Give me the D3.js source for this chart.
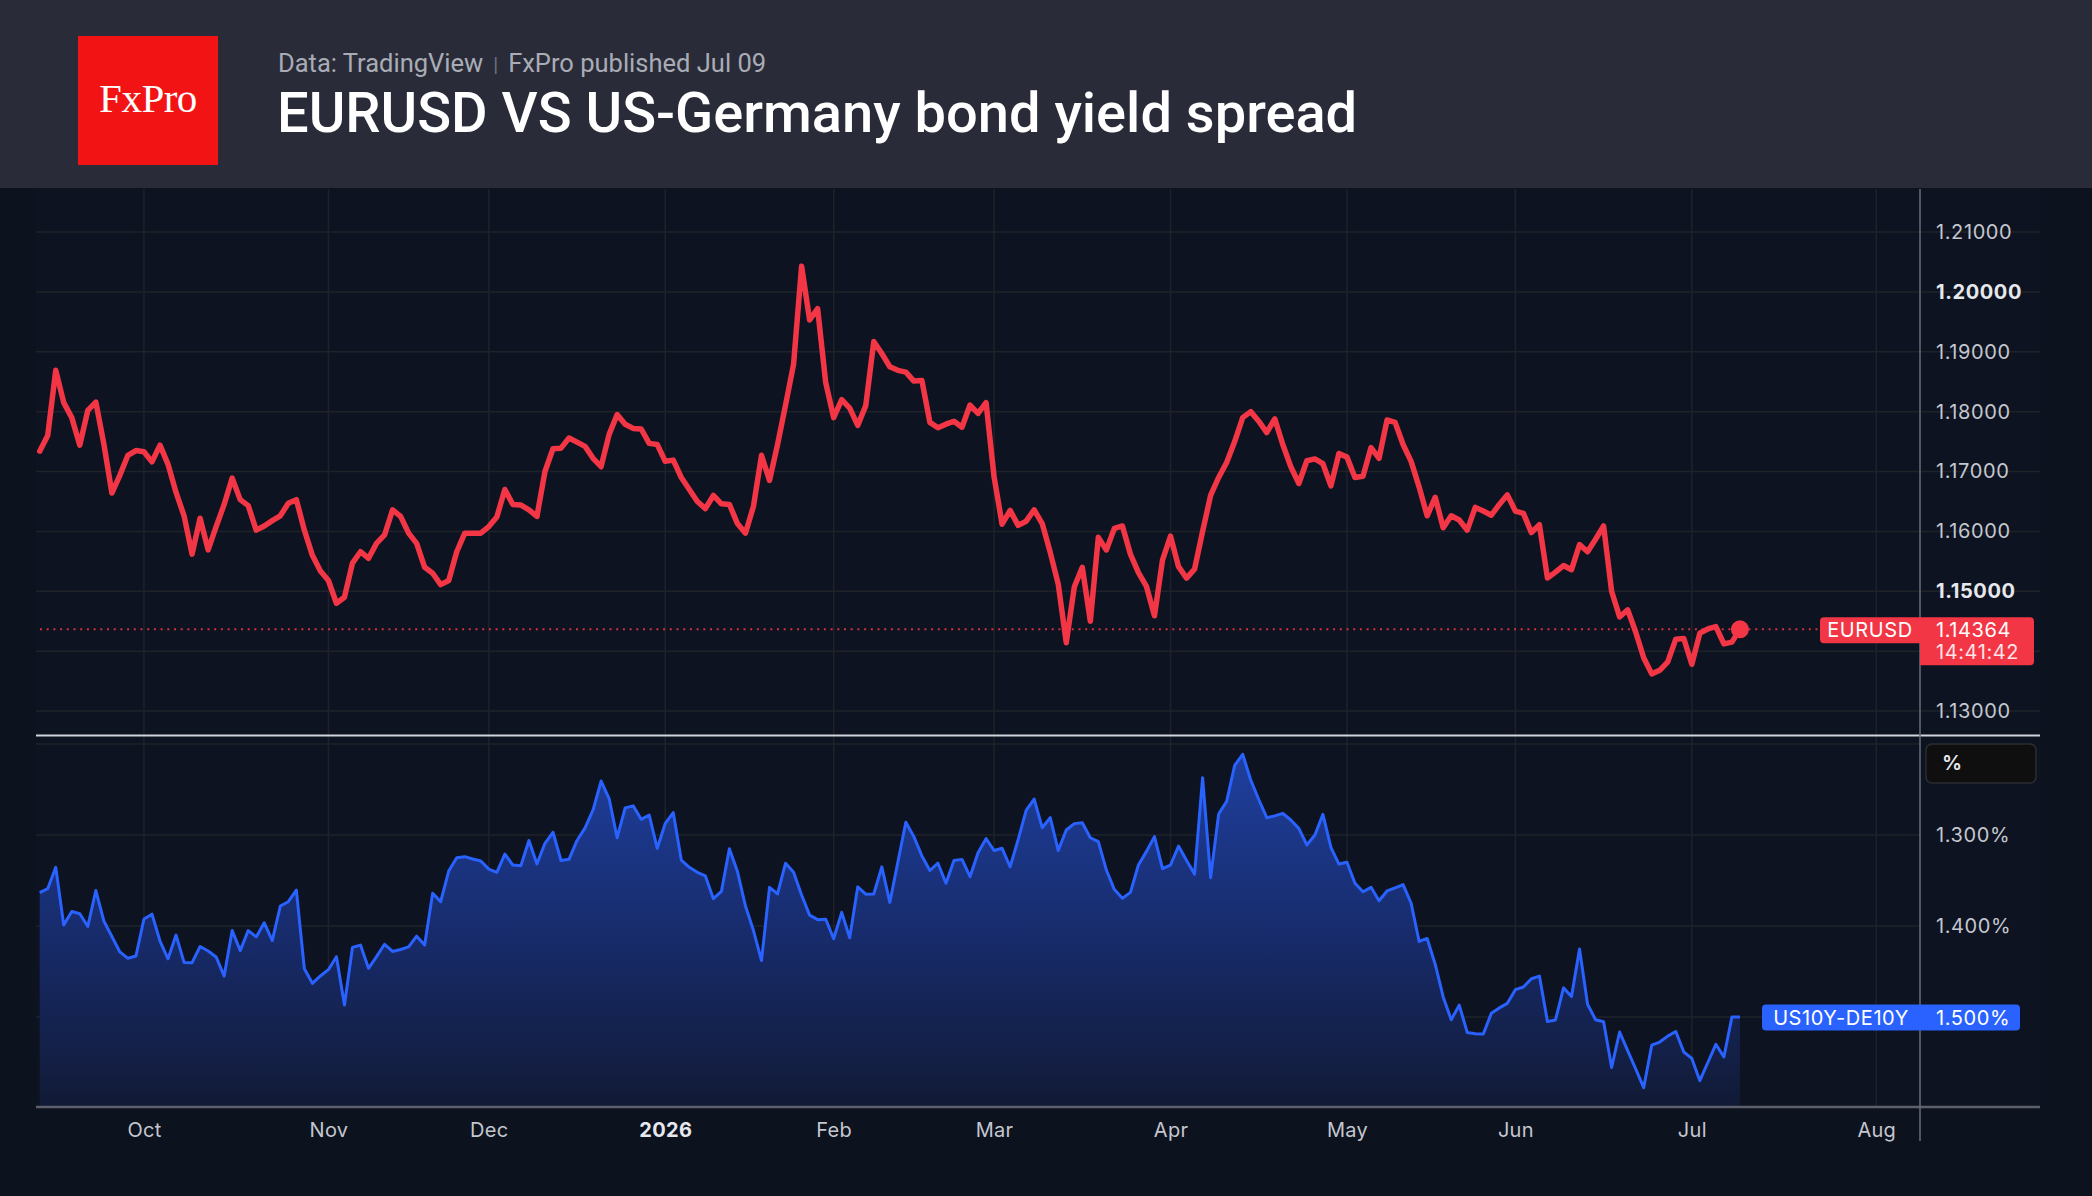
<!DOCTYPE html>
<html>
<head>
<meta charset="utf-8">
<script src="https://cdn.jsdelivr.net/npm/d3@7/dist/d3.min.js"></script>
<style>
  html, body { margin: 0; padding: 0; background: #0c121e; }
  svg { display: block; }
  text { font-family: Inter, Roboto, "Noto Sans", sans-serif; }
</style>
</head>
<body>
<svg id="chart" width="2092" height="1196"></svg>
<script>
// ---------------- DATA ----------------
// Daily trading bars from 2025-09-12 to 2026-07-09 (weekdays, excluding these holidays)
const firstDay = "2025-09-12";
const lastDay = "2026-07-09";
const axisEndDay = "2026-08-31";
const holidays = ["2025-12-25", "2026-01-01"];

const eurusd = [
  1.1734,1.1760,1.1869,1.1815,1.1790,1.1744,1.1802,1.1816,1.1746,1.1664,
  1.1694,1.1727,1.1735,1.1733,1.1716,1.1744,1.1712,1.1665,1.1626,1.1562,
  1.1622,1.1569,1.1608,1.1645,1.1689,1.1653,1.1643,1.1602,1.1609,1.1618,
  1.1626,1.1647,1.1653,1.1602,1.1560,1.1534,1.1518,1.1480,1.1490,1.1547,
  1.1566,1.1555,1.1580,1.1594,1.1636,1.1625,1.1597,1.1580,1.1540,1.1530,
  1.1511,1.1518,1.1566,1.1597,1.1597,1.1597,1.1608,1.1624,1.1670,1.1645,
  1.1644,1.1636,1.1625,1.1700,1.1738,1.1739,1.1756,1.1749,1.1742,1.1722,
  1.1708,1.1762,1.1795,1.1779,1.1772,1.1771,1.1747,1.1745,1.1717,1.1719,
  1.1690,1.1670,1.1650,1.1638,1.1660,1.1646,1.1645,1.1613,1.1597,1.1642,
  1.1727,1.1685,1.1745,1.1811,1.1879,1.2043,1.1953,1.1972,1.1849,1.1790,
  1.1820,1.1806,1.1777,1.1810,1.1917,1.1897,1.1875,1.1869,1.1866,1.1851,
  1.1852,1.1782,1.1773,1.1779,1.1784,1.1774,1.1811,1.1797,1.1815,1.1691,
  1.1612,1.1635,1.1610,1.1617,1.1636,1.1613,1.1565,1.1512,1.1414,1.1507,
  1.1540,1.1450,1.1590,1.1569,1.1605,1.1609,1.1562,1.1531,1.1508,1.1459,
  1.1552,1.1592,1.1541,1.1522,1.1537,1.1600,1.1660,1.1690,1.1715,1.1750,
  1.1790,1.1800,1.1784,1.1765,1.1788,1.1745,1.1708,1.1680,1.1718,1.1721,
  1.1713,1.1676,1.1730,1.1724,1.1690,1.1692,1.1740,1.1722,1.1786,1.1782,
  1.1745,1.1717,1.1674,1.1626,1.1657,1.1606,1.1626,1.1619,1.1602,1.1640,
  1.1634,1.1627,1.1645,1.1661,1.1634,1.1630,1.1598,1.1611,1.1522,1.1532,
  1.1543,1.1536,1.1578,1.1566,1.1587,1.1609,1.1500,1.1457,1.1469,1.1432,
  1.1389,1.1362,1.1368,1.1382,1.1420,1.1421,1.1378,1.1430,1.1437,1.1441,
  1.1412,1.1415,1.14364
];

const spread = [
  1.3634,1.3590,1.3355,1.3990,1.3840,1.3865,1.4005,1.3610,1.3945,1.4115,
  1.4285,1.4355,1.4330,1.3923,1.3870,1.4165,1.4360,1.4100,1.4400,1.4403,
  1.4225,1.4275,1.4340,1.4550,1.4050,1.4270,1.4050,1.4120,1.3965,1.4160,
  1.3780,1.3733,1.3605,1.4470,1.4630,1.4549,1.4480,1.4337,1.4868,1.4235,
  1.4210,1.4465,1.4337,1.4201,1.4280,1.4258,1.4230,1.4112,1.4209,1.3640,
  1.3733,1.3396,1.3250,1.3238,1.3264,1.3285,1.3375,1.3410,1.3210,1.3330,
  1.3337,1.3060,1.3319,1.3091,1.2970,1.3280,1.3267,1.3060,1.2922,1.2725,
  1.2407,1.2600,1.3030,1.2702,1.2680,1.2828,1.2780,1.3146,1.2872,1.2755,
  1.3275,1.3355,1.3410,1.3450,1.3700,1.3620,1.3150,1.3400,1.3780,1.4050,
  1.4380,1.3575,1.3648,1.3310,1.3410,1.3660,1.3880,1.3930,1.3925,1.4140,
  1.3850,1.4130,1.3570,1.3650,1.3648,1.3350,1.3740,1.3300,1.2860,1.3018,
  1.3230,1.3390,1.3310,1.3530,1.3280,1.3268,1.3458,1.3195,1.3040,1.3170,
  1.3146,1.3350,1.3050,1.2730,1.2605,1.2920,1.2810,1.3170,1.2945,1.2875,
  1.2865,1.3030,1.3073,1.3385,1.3600,1.3696,1.3630,1.3330,1.3180,1.3018,
  1.3370,1.3330,1.3121,1.3280,1.3430,1.2370,1.3469,1.2770,1.2630,1.2235,
  1.2113,1.2396,1.2610,1.2810,1.2790,1.2762,1.2835,1.2927,1.3110,1.3000,
  1.2773,1.3135,1.3319,1.3300,1.3531,1.3623,1.3575,1.3722,1.3615,1.3580,
  1.3545,1.3750,1.4170,1.4137,1.4420,1.4780,1.5030,1.4870,1.5170,1.5185,
  1.5187,1.4960,1.4900,1.4850,1.4700,1.4670,1.4580,1.4550,1.5050,1.5033,
  1.4680,1.4775,1.4253,1.4860,1.5030,1.5052,1.5555,1.5165,1.5370,1.5570,
  1.5777,1.5310,1.5275,1.5210,1.5160,1.5385,1.5455,1.5700,1.5500,1.5300,
  1.5440,1.5000,1.5000
];

const priceTicks = [1.13, 1.14, 1.15, 1.16, 1.17, 1.18, 1.19, 1.20, 1.21];
const priceLabelTicks = [1.13, 1.15, 1.16, 1.17, 1.18, 1.19, 1.20, 1.21];
const priceBoldTicks = [1.15, 1.20];
const spreadTicks = [1.2, 1.3, 1.4, 1.5];
const spreadLabelTicks = [1.3, 1.4, 1.5];
const monthLabels = ["Oct", "Nov", "Dec", "2026", "Feb", "Mar", "Apr", "May", "Jun", "Jul", "Aug"];
const monthBoldLabels = ["2026"];

const lastPrice = "1.14364";
const countdown = "14:41:42";
const eurLabel = "EURUSD";
const spreadLabel = "US10Y-DE10Y";
const spreadValueLabel = "1.500%";

const titleText = "EURUSD VS US-Germany bond yield spread";
const sourceLeft = "Data: TradingView";
const sourceRight = "FxPro published Jul 09";

// ---------------- CALENDAR ----------------
const parse = d3.utcParse("%Y-%m-%d");
const fmt = d3.utcFormat("%Y-%m-%d");
const hol = new Set(holidays);
const allDays = d3.utcDays(parse(firstDay), d3.utcDay.offset(parse(axisEndDay), 1))
  .filter(d => d.getUTCDay() !== 0 && d.getUTCDay() !== 6 && !hol.has(fmt(d)));
const barDates = allDays.filter(d => d <= parse(lastDay));
const N = barDates.length; // 213

const monthTickIdx = [];
allDays.forEach((d, i) => {
  if (i > 0 && d.getUTCMonth() !== allDays[i - 1].getUTCMonth()) monthTickIdx.push(i);
});

// ---------------- LAYOUT ----------------
const W = 2092, H = 1196;
const svg = d3.select("#chart");
const plotL = 36, plotR = 1920, lineR = 2040;
const topT = 189, sepY = 735.5, botY = 1107;

const x = d3.scaleLinear().domain([0, N - 1]).range([39.7, 39.7 + (N - 1) * 8.02]);
const yP = d3.scaleLinear().domain([1.13, 1.21]).range([711, 232]);
const yS = d3.scaleLinear().domain([1.3, 1.5]).range([835, 1017]);

// backgrounds
svg.append("rect").attr("width", W).attr("height", H).attr("fill", "#0c121e");
svg.append("rect").attr("x", plotL).attr("y", topT).attr("width", lineR - plotL).attr("height", botY - topT).attr("fill", "#0d1320");
svg.append("rect").attr("width", W).attr("height", 188).attr("fill", "#292c38");

// header
svg.append("rect").attr("x", 78).attr("y", 36).attr("width", 140).attr("height", 129).attr("fill", "#f21414");
svg.append("text").attr("x", 148).attr("y", 112).attr("text-anchor", "middle")
  .attr("fill", "#ffffff").style("font-family", "'Liberation Serif', 'DejaVu Serif', serif")
  .style("font-size", "41px").style("letter-spacing", "-0.5px").text("FxPro");

const sub = svg.append("text").attr("x", 278).attr("y", 72).attr("fill", "#a9acb6")
  .style("font-family", "Roboto, sans-serif").style("font-size", "25.5px");
sub.append("tspan").text(sourceLeft);
sub.append("tspan").attr("dx", 10).attr("fill", "#6f7380").style("font-size", "20px").text("|");
sub.append("tspan").attr("dx", 10).text(sourceRight);

svg.append("text").attr("x", 277).attr("y", 132).attr("fill", "#ffffff")
  .style("font-family", "Roboto, sans-serif").style("font-weight", 500)
  .style("font-size", "56px").text(titleText);

// gridlines
const grid = svg.append("g").attr("stroke", "#1f2329").attr("stroke-width", 1.5);
grid.selectAll(".vg").data(monthTickIdx).join("line")
  .attr("x1", d => x(d)).attr("x2", d => x(d)).attr("y1", topT).attr("y2", botY);
grid.selectAll(".hp").data(priceTicks).join("line")
  .attr("x1", plotL).attr("x2", lineR).attr("y1", d => yP(d)).attr("y2", d => yP(d));
grid.selectAll(".hs").data(spreadTicks).join("line")
  .attr("x1", plotL).attr("x2", plotR).attr("y1", d => yS(d)).attr("y2", d => yS(d));

// clip paths
const defs = svg.append("defs");
defs.append("clipPath").attr("id", "clipTop").append("rect")
  .attr("x", plotL).attr("y", topT).attr("width", plotR - plotL).attr("height", sepY - topT - 1);
defs.append("clipPath").attr("id", "clipBot").append("rect")
  .attr("x", plotL).attr("y", sepY + 1).attr("width", plotR - plotL).attr("height", botY - sepY - 1);
const grad = defs.append("linearGradient").attr("id", "areaGrad")
  .attr("gradientUnits", "userSpaceOnUse").attr("x1", 0).attr("x2", 0).attr("y1", 750).attr("y2", botY);
grad.append("stop").attr("offset", "0%").attr("stop-color", "#1f40a0");
grad.append("stop").attr("offset", "55%").attr("stop-color", "#172a68");
grad.append("stop").attr("offset", "100%").attr("stop-color", "#111a35");

// spread area + line
const gBot = svg.append("g").attr("clip-path", "url(#clipBot)");
gBot.append("path").datum(spread)
  .attr("d", d3.area().x((d, i) => x(i)).y0(botY).y1(d => yS(d)))
  .attr("fill", "url(#areaGrad)");
gBot.append("path").datum(spread)
  .attr("d", d3.line().x((d, i) => x(i)).y(d => yS(d)))
  .attr("fill", "none").attr("stroke", "#2962ff").attr("stroke-width", 3).attr("stroke-linejoin", "round");

// EURUSD line
const gTop = svg.append("g").attr("clip-path", "url(#clipTop)");
const lastY = yP(+lastPrice);
gTop.append("line").attr("x1", 40).attr("x2", 1820).attr("y1", lastY).attr("y2", lastY)
  .attr("stroke", "#f23645").attr("stroke-width", 2).attr("stroke-dasharray", "2 4.7").attr("opacity", 0.85);
gTop.append("path").datum(eurusd)
  .attr("d", d3.line().x((d, i) => x(i)).y(d => yP(d)))
  .attr("fill", "none").attr("stroke", "#f23645").attr("stroke-width", 5.5)
  .attr("stroke-linejoin", "round").attr("stroke-linecap", "round");
gTop.append("circle").attr("cx", x(N - 1)).attr("cy", yP(eurusd[N - 1])).attr("r", 9).attr("fill", "#f23645");

// separators & axis lines
svg.append("line").attr("x1", plotL).attr("x2", lineR).attr("y1", sepY).attr("y2", sepY)
  .attr("stroke", "#d1d4dc").attr("stroke-width", 2);
svg.append("line").attr("x1", plotL).attr("x2", lineR).attr("y1", botY).attr("y2", botY)
  .attr("stroke", "#5d606b").attr("stroke-width", 2.5);
svg.append("line").attr("x1", plotR).attr("x2", plotR).attr("y1", topT).attr("y2", 1141)
  .attr("stroke", "#6a6d78").attr("stroke-width", 1.5);

// price axis
const axP = svg.append("g").attr("transform", `translate(${plotR},0)`)
  .call(d3.axisRight(yP).tickValues(priceLabelTicks).tickSize(0).tickPadding(16).tickFormat(d3.format(".5f")));
axP.select(".domain").remove();
axP.selectAll("text").style("font-size", "20px").style("letter-spacing", "0.6px")
  .attr("fill", d => priceBoldTicks.includes(d) ? "#e6e8ee" : "#c4c7cf")
  .style("font-weight", d => priceBoldTicks.includes(d) ? 700 : 400);

// spread axis
const axS = svg.append("g").attr("transform", `translate(${plotR},0)`)
  .call(d3.axisRight(yS).tickValues(spreadLabelTicks).tickSize(0).tickPadding(16).tickFormat(d => d3.format(".3f")(d) + "%"));
axS.select(".domain").remove();
axS.selectAll("text").style("font-size", "20px").style("letter-spacing", "0.6px").attr("fill", "#c4c7cf");

// time axis
const axT = svg.append("g").attr("transform", `translate(0,${botY})`)
  .call(d3.axisBottom(x).tickValues(monthTickIdx).tickSize(0).tickPadding(16)
    .tickFormat((d, i) => monthLabels[i]));
axT.select(".domain").remove();
axT.selectAll("text").style("font-size", "20px").style("letter-spacing", "0.3px")
  .attr("fill", (d, i) => monthBoldLabels.includes(monthLabels[i]) ? "#e6e8ee" : "#c4c7cf")
  .style("font-weight", (d, i) => monthBoldLabels.includes(monthLabels[i]) ? 700 : 400);

// % box
svg.append("rect").attr("x", 1926).attr("y", 744).attr("width", 110).attr("height", 39).attr("rx", 6)
  .attr("fill", "#0f0f10").attr("stroke", "#2b2d31").attr("stroke-width", 1.5);
svg.append("text").attr("x", 1942).attr("y", 770).attr("fill", "#e6e8ee")
  .style("font-size", "20px").style("font-weight", 600).text("%");

// EURUSD labels
const red = "#f23645";
svg.append("path").attr("d", roundRect(1820, lastY - 12, 100, 26, 4, 0, 0, 4)).attr("fill", red);
svg.append("text").attr("x", 1870).attr("y", lastY + 8).attr("text-anchor", "middle").attr("fill", "#ffffff")
  .style("font-size", "20px").style("letter-spacing", "0.6px").text(eurLabel);
svg.append("path").attr("d", roundRect(1920, lastY - 12, 114, 48, 0, 4, 4, 0)).attr("fill", red);
svg.append("text").attr("x", 1936).attr("y", lastY + 8).attr("fill", "#ffffff")
  .style("font-size", "20px").style("letter-spacing", "0.6px").text(lastPrice);
svg.append("text").attr("x", 1936).attr("y", lastY + 30).attr("fill", "#ffe3e6")
  .style("font-size", "20px").style("letter-spacing", "0.6px").text(countdown);

// spread labels
const blue = "#2962ff";
const sY = yS(spread[N - 1]);
svg.append("path").attr("d", roundRect(1762, sY - 12.5, 158, 26, 4, 0, 0, 4)).attr("fill", blue);
svg.append("text").attr("x", 1841).attr("y", sY + 7.5).attr("text-anchor", "middle").attr("fill", "#ffffff")
  .style("font-size", "20px").style("letter-spacing", "0.6px").text(spreadLabel);
svg.append("path").attr("d", roundRect(1920, sY - 12.5, 100, 26, 0, 4, 4, 0)).attr("fill", blue);
svg.append("text").attr("x", 1936).attr("y", sY + 7.5).attr("fill", "#ffffff")
  .style("font-size", "20px").style("letter-spacing", "0.6px").text(spreadValueLabel);

function roundRect(x0, y0, w, h, tl, tr, br, bl) {
  return `M${x0 + tl},${y0}H${x0 + w - tr}Q${x0 + w},${y0} ${x0 + w},${y0 + tr}` +
    `V${y0 + h - br}Q${x0 + w},${y0 + h} ${x0 + w - br},${y0 + h}` +
    `H${x0 + bl}Q${x0},${y0 + h} ${x0},${y0 + h - bl}V${y0 + tl}Q${x0},${y0} ${x0 + tl},${y0}Z`;
}
</script>
</body>
</html>
